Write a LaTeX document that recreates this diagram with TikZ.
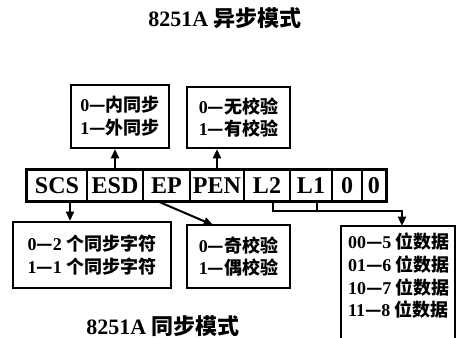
\documentclass[tikz,border=0pt]{standalone}
\usepackage{fontspec}
\setmainfont{Liberation Serif}
\newfontfamily\zhfont{Noto Sans CJK SC}
\newcommand\zh[1]{{\zhfont #1}}
\usetikzlibrary{arrows.meta}

\begin{document}
\begin{tikzpicture}[x=0.75pt, y=-0.75pt,
	box/.style={draw, line width=1.6pt, align=left, inner sep=0pt, font=\bfseries\fontsize{13.5}{17}\selectfont},
	cell/.style={draw, line width=1pt, inner sep=0pt, minimum height=23.25pt, font=\bfseries\fontsize{18}{20}\selectfont},
	arr/.style={line width=1.5pt, -{Triangle[length=7pt, width=6pt]}},
	wire/.style={line width=1.5pt},
	head/.style={font=\bfseries\fontsize{16.5}{18}\selectfont}]
	\useasboundingbox (0,0) rectangle (462,338);
	% titles
	\node[head] (asyn) at (225,18) {8251A \zh{异步模式}};
	\node[head] (syn) at (163,326) {8251A \zh{同步模式}};
	% mode word
	\foreach \l/\r/\n/\t in {27/87/scs/SCS, 87/143/esd/ESD, 143/190/ep/EP, 190/244/pen/PEN,
		244/290/ltwo/L2, 290/332/lone/L1, 332/362/zeroa/0, 362/386/zerob/0}
		\node[cell, minimum width={(\r-\l)*0.75pt}] (\n) at ({(\l+\r)/2},185.5) {\t};
	\draw[line width=2pt] (scs.north west) rectangle (zerob.south east);
	% boxes
	\node[box, minimum width=73.5pt, minimum height=47.25pt] (sync) at (120,116.5)
		{0\zh{—内同步}\\1\zh{—外同步}};
	\node[box, minimum width=77.25pt, minimum height=45.75pt] (chk) at (238.5,117.5)
		{0\zh{—无校验}\\1\zh{—有校验}};
	\node[box, minimum width=118.5pt, minimum height=49.5pt] (chr) at (92,255)
		{0\zh{—}2 \zh{个同步字符}\\1\zh{—}1 \zh{个同步字符}};
	\node[box, minimum width=77.25pt, minimum height=47.25pt] (par) at (238.5,256.5)
		{0\zh{—奇校验}\\1\zh{—偶校验}};
	\node[box, draw=none] (dat) at (399,276)
		{00\zh{—}5 \zh{位数据}\\01\zh{—}6 \zh{位数据}\\10\zh{—}7 \zh{位数据}\\11\zh{—}8 \zh{位数据}};
	\draw[line width=1.6pt] (341,340) -- (341,226) -- (455,226) -- (455,340);
	% connectors
	\coordinate (scso) at (70,201);
	\coordinate (epo) at (157,201);
	\coordinate (pari) at (213,225);
	\coordinate (lto) at (273,201);
	\coordinate (loo) at (317,201);
	\coordinate (bend) at (273,211);
	\coordinate (dati) at (402,226);
	\draw[arr] (esd.north) -- (esd.north |- sync.south);
	\draw[arr] (pen.north) -- (pen.north |- chk.south);
	\draw[arr] (scso) -- (scso |- chr.north);
	\draw[arr] (epo) -- (pari);
	\draw[arr] (lto) -- (bend) -| (dati);
	\draw[wire] (loo) -- (loo |- bend);
\end{tikzpicture}
\end{document}
